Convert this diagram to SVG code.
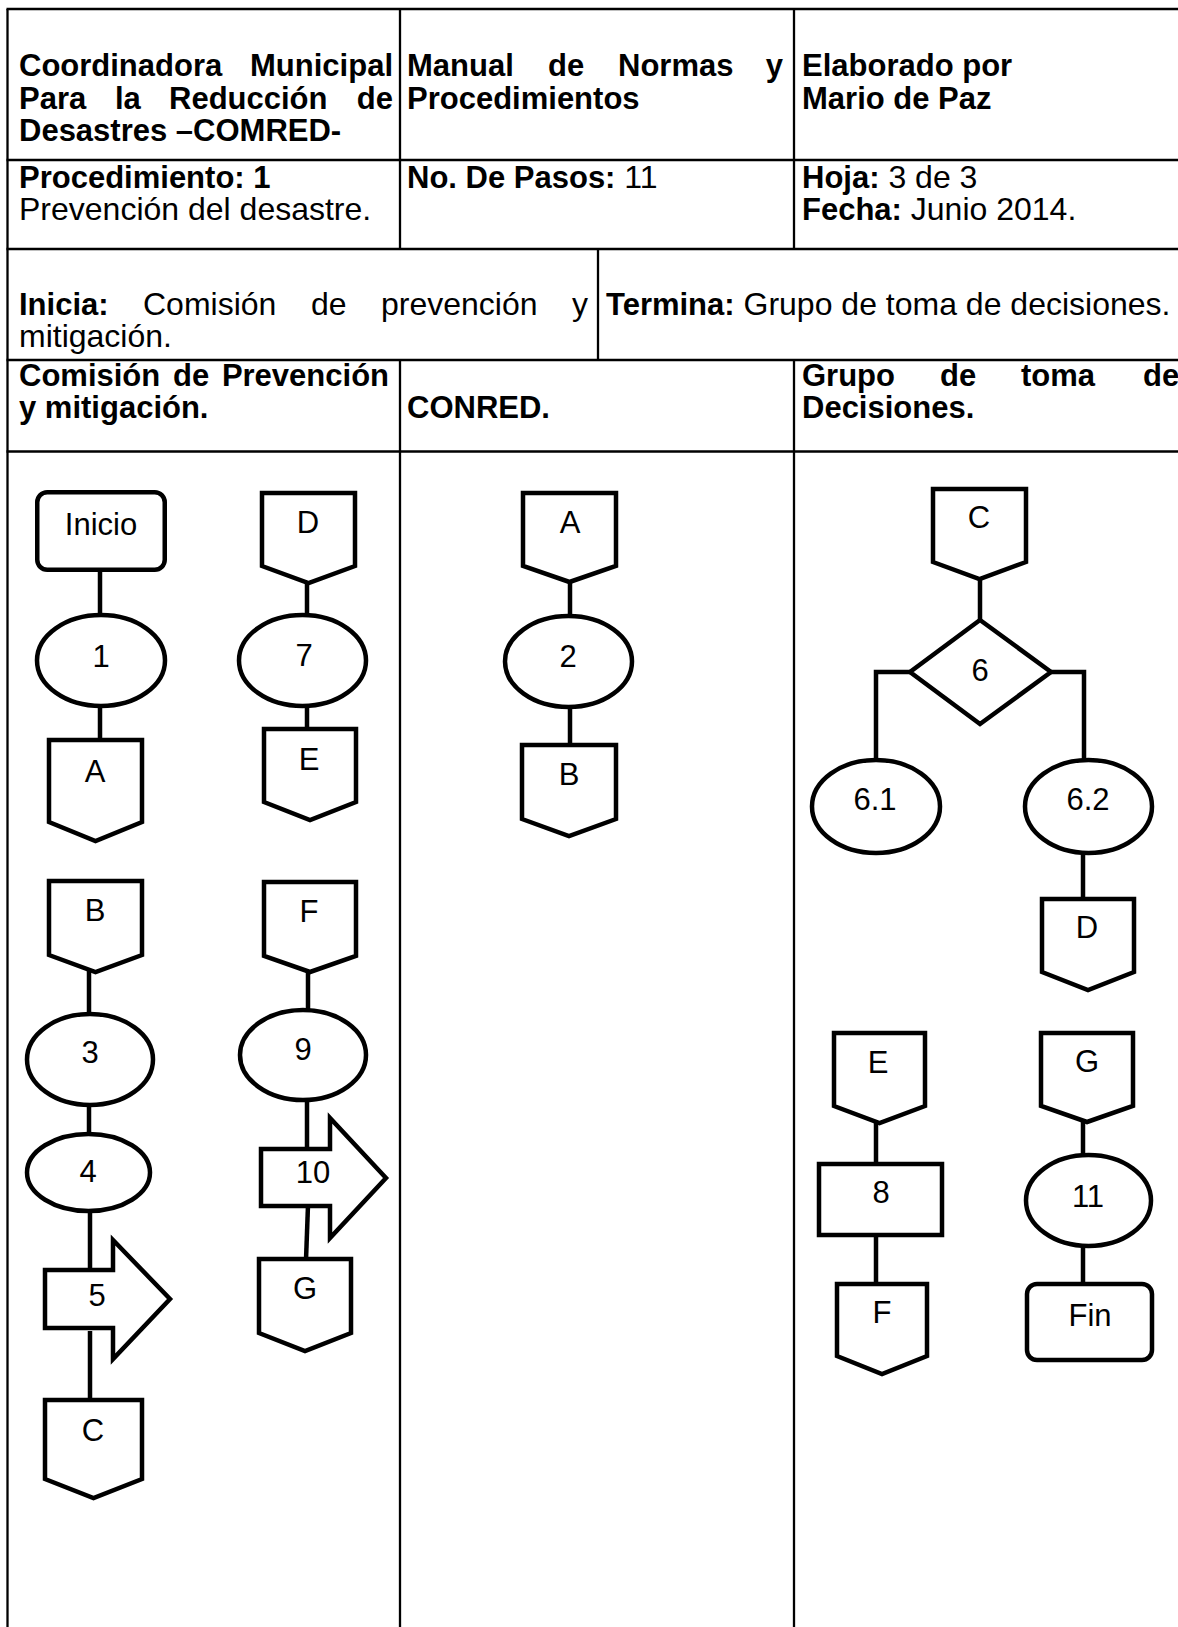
<svg xmlns="http://www.w3.org/2000/svg" width="1178" height="1627" viewBox="0 0 1178 1627">
<style>
text{font-family:"Liberation Sans",Arial,sans-serif;font-size:31px;fill:#000}
.b{font-weight:bold}
.r{font-size:32px}
.tl{stroke:#000;stroke-width:2.3;fill:none}
.sh{stroke:#000;stroke-width:4.5;fill:#fff;stroke-linejoin:miter}
.cn{stroke:#000;stroke-width:4.5;fill:none}
.c{text-anchor:middle}
.e{text-anchor:end}
</style>
<rect width="1178" height="1627" fill="#fff"/>
<g id="table">
<line class="tl" x1="7.5" y1="9" x2="7.5" y2="1627"/>
<line class="tl" x1="6.5" y1="9" x2="1178" y2="9"/>
<line class="tl" x1="6.5" y1="160" x2="1178" y2="160"/>
<line class="tl" x1="6.5" y1="249" x2="1178" y2="249"/>
<line class="tl" x1="6.5" y1="360" x2="1178" y2="360"/>
<line class="tl" x1="6.5" y1="451.5" x2="1178" y2="451.5"/>
<line class="tl" x1="400" y1="9" x2="400" y2="249"/>
<line class="tl" x1="794" y1="9" x2="794" y2="249"/>
<line class="tl" x1="598" y1="249" x2="598" y2="360"/>
<line class="tl" x1="400" y1="360" x2="400" y2="1627"/>
<line class="tl" x1="794" y1="360" x2="794" y2="1627"/>
</g>
<g id="header-text">
<text class="b" x="19" y="76">Coordinadora</text>
<text class="b e" x="393" y="76">Municipal</text>
<text class="b" x="19" y="109">Para</text>
<text class="b" x="115" y="109">la</text>
<text class="b" x="169" y="109">Reducción</text>
<text class="b e" x="393" y="109">de</text>
<text class="b" x="19" y="141">Desastres –COMRED-</text>
<text class="b" x="407" y="76">Manual</text>
<text class="b" x="548" y="76">de</text>
<text class="b" x="618" y="76">Normas</text>
<text class="b e" x="783" y="76">y</text>
<text class="b" x="407" y="109">Procedimientos</text>
<text class="b" x="802" y="76">Elaborado por</text>
<text class="b" x="802" y="109">Mario de Paz</text>
<text class="b" x="19" y="188">Procedimiento: 1</text>
<text class="r" x="19" y="220">Prevención del desastre.</text>
<text x="407" y="188"><tspan class="b">No. De Pasos:</tspan><tspan class="r"> 11</tspan></text>
<text x="802" y="188"><tspan class="b">Hoja:</tspan><tspan class="r"> 3 de 3</tspan></text>
<text x="802" y="220"><tspan class="b">Fecha:</tspan><tspan class="r"> Junio 2014.</tspan></text>
<text class="b" x="19" y="315">Inicia:</text>
<text class="r" x="143" y="315">Comisión</text>
<text class="r" x="311" y="315">de</text>
<text class="r" x="381" y="315">prevención</text>
<text class="r e" x="588" y="315">y</text>
<text class="r" x="19" y="347">mitigación.</text>
<text x="606" y="315"><tspan class="b">Termina:</tspan><tspan class="r"> Grupo de toma de decisiones.</tspan></text>
<text class="b" x="19" y="386">Comisión</text>
<text class="b" x="173" y="386">de</text>
<text class="b e" x="389" y="386">Prevención</text>
<text class="b" x="19" y="418">y mitigación.</text>
<text class="b" x="407" y="418">CONRED.</text>
<text class="b" x="802" y="386">Grupo</text>
<text class="b" x="940" y="386">de</text>
<text class="b" x="1021" y="386">toma</text>
<text class="b" x="1143" y="386">de</text>
<text class="b" x="802" y="418">Decisiones.</text>
</g>
<g id="connectors">
<line class="cn" x1="100" y1="572" x2="100" y2="616"/>
<line class="cn" x1="100" y1="704" x2="100" y2="741"/>
<line class="cn" x1="307" y1="582" x2="307" y2="617"/>
<line class="cn" x1="307" y1="704" x2="307" y2="730"/>
<line class="cn" x1="89" y1="971" x2="89" y2="1015"/>
<line class="cn" x1="89" y1="1104" x2="89" y2="1135"/>
<line class="cn" x1="90" y1="1210" x2="90" y2="1271"/>
<line class="cn" x1="90" y1="1331" x2="90" y2="1401"/>
<line class="cn" x1="308" y1="971" x2="308" y2="1011"/>
<line class="cn" x1="307" y1="1099" x2="307" y2="1150"/>
<line class="cn" x1="308" y1="1205" x2="306" y2="1260"/>
<line class="cn" x1="570" y1="581" x2="570" y2="617"/>
<line class="cn" x1="570" y1="706" x2="570" y2="746"/>
<line class="cn" x1="980" y1="578" x2="980" y2="621"/>
<polyline class="cn" points="911,672 876,672 876,761"/>
<polyline class="cn" points="1050,672 1084,672 1084,761"/>
<line class="cn" x1="1083" y1="852" x2="1083" y2="900"/>
<line class="cn" x1="876" y1="1122" x2="876" y2="1165"/>
<line class="cn" x1="876" y1="1234" x2="876" y2="1285"/>
<line class="cn" x1="1083" y1="1121" x2="1083" y2="1156"/>
<line class="cn" x1="1083" y1="1245" x2="1083" y2="1285"/>
</g>
<g id="n-inicio"><rect class="sh" x="37.25" y="492.25" width="127.5" height="77.5" rx="10"/><text class="c" x="101" y="535">Inicio</text></g>
<g id="n-1"><ellipse class="sh" cx="101" cy="660.5" rx="64" ry="45.5"/><text class="c" x="101" y="667">1</text></g>
<g id="n-a1"><path class="sh" d="M49,740 H142 V822 L95.5,841 L49,822 Z"/><text class="c" x="95" y="782">A</text></g>
<g id="n-d1"><path class="sh" d="M262,493 H355 V566 L308.5,583 L262,566 Z"/><text class="c" x="308" y="533">D</text></g>
<g id="n-7"><ellipse class="sh" cx="302.5" cy="660.5" rx="63.5" ry="45.5"/><text class="c" x="304" y="666">7</text></g>
<g id="n-e1"><path class="sh" d="M264,729 H356 V802 L310,820 L264,802 Z"/><text class="c" x="309" y="770">E</text></g>
<g id="n-b1"><path class="sh" d="M49,881 H142 V955 L95.5,972 L49,955 Z"/><text class="c" x="95" y="921">B</text></g>
<g id="n-3"><ellipse class="sh" cx="90" cy="1059.5" rx="63" ry="45.5"/><text class="c" x="90" y="1063">3</text></g>
<g id="n-4"><ellipse class="sh" cx="88.5" cy="1172.5" rx="61.5" ry="38.5"/><text class="c" x="88" y="1182">4</text></g>
<g id="n-5"><path class="sh" d="M45,1270 H113 V1240 L170,1299 L113,1359 V1328 H45 Z"/><text class="c" x="97" y="1306">5</text></g>
<g id="n-c1"><path class="sh" d="M45,1400 H142 V1479 L93.5,1498 L45,1479 Z"/><text class="c" x="93" y="1441">C</text></g>
<g id="n-f1"><path class="sh" d="M264,882 H356 V956 L310,972 L264,956 Z"/><text class="c" x="309" y="922">F</text></g>
<g id="n-9"><ellipse class="sh" cx="303" cy="1055" rx="63" ry="45"/><text class="c" x="303" y="1060">9</text></g>
<g id="n-10"><path class="sh" d="M261,1149 H330 V1118 L386,1178 L330,1238 V1206 H261 Z"/><text class="c" x="313" y="1183">10</text></g>
<g id="n-g1"><path class="sh" d="M259,1259 H351 V1333 L305,1351 L259,1333 Z"/><text class="c" x="305" y="1299">G</text></g>
<g id="n-a2"><path class="sh" d="M523,493 H616 V566 L569.5,582 L523,566 Z"/><text class="c" x="570" y="533">A</text></g>
<g id="n-2"><ellipse class="sh" cx="568.5" cy="661.5" rx="63.5" ry="45.5"/><text class="c" x="568" y="667">2</text></g>
<g id="n-b2"><path class="sh" d="M522,745 H616 V819 L569,836 L522,819 Z"/><text class="c" x="569" y="785">B</text></g>
<g id="n-c3"><path class="sh" d="M933,489 H1026 V562 L979.5,579 L933,562 Z"/><text class="c" x="979" y="528">C</text></g>
<g id="n-6"><path class="sh" d="M980,620 L1051,672 L980,724 L910,672 Z"/><text class="c" x="980" y="681">6</text></g>
<g id="n-6-1"><ellipse class="sh" cx="876" cy="806.5" rx="64" ry="46.5"/><text class="c" x="875" y="810">6.1</text></g>
<g id="n-6-2"><ellipse class="sh" cx="1088.5" cy="806.5" rx="63.5" ry="46.5"/><text class="c" x="1088" y="810">6.2</text></g>
<g id="n-d3"><path class="sh" d="M1042,899 H1134 V972 L1088,990 L1042,972 Z"/><text class="c" x="1087" y="938">D</text></g>
<g id="n-e3"><path class="sh" d="M834,1033 H925 V1106 L879.5,1123 L834,1106 Z"/><text class="c" x="878" y="1073">E</text></g>
<g id="n-8"><rect class="sh" x="819" y="1164" width="123" height="71"/><text class="c" x="881" y="1203">8</text></g>
<g id="n-f3"><path class="sh" d="M837,1284 H927 V1356 L882,1374 L837,1356 Z"/><text class="c" x="882" y="1323">F</text></g>
<g id="n-g3"><path class="sh" d="M1041,1033 H1133 V1106 L1087,1122 L1041,1106 Z"/><text class="c" x="1087" y="1072">G</text></g>
<g id="n-11"><ellipse class="sh" cx="1088.5" cy="1200.5" rx="62.5" ry="45.5"/><text class="c" x="1088" y="1207">11</text></g>
<g id="n-fin"><rect class="sh" x="1027" y="1284" width="125" height="76" rx="10"/><text class="c" x="1090" y="1326">Fin</text></g>
</svg>
